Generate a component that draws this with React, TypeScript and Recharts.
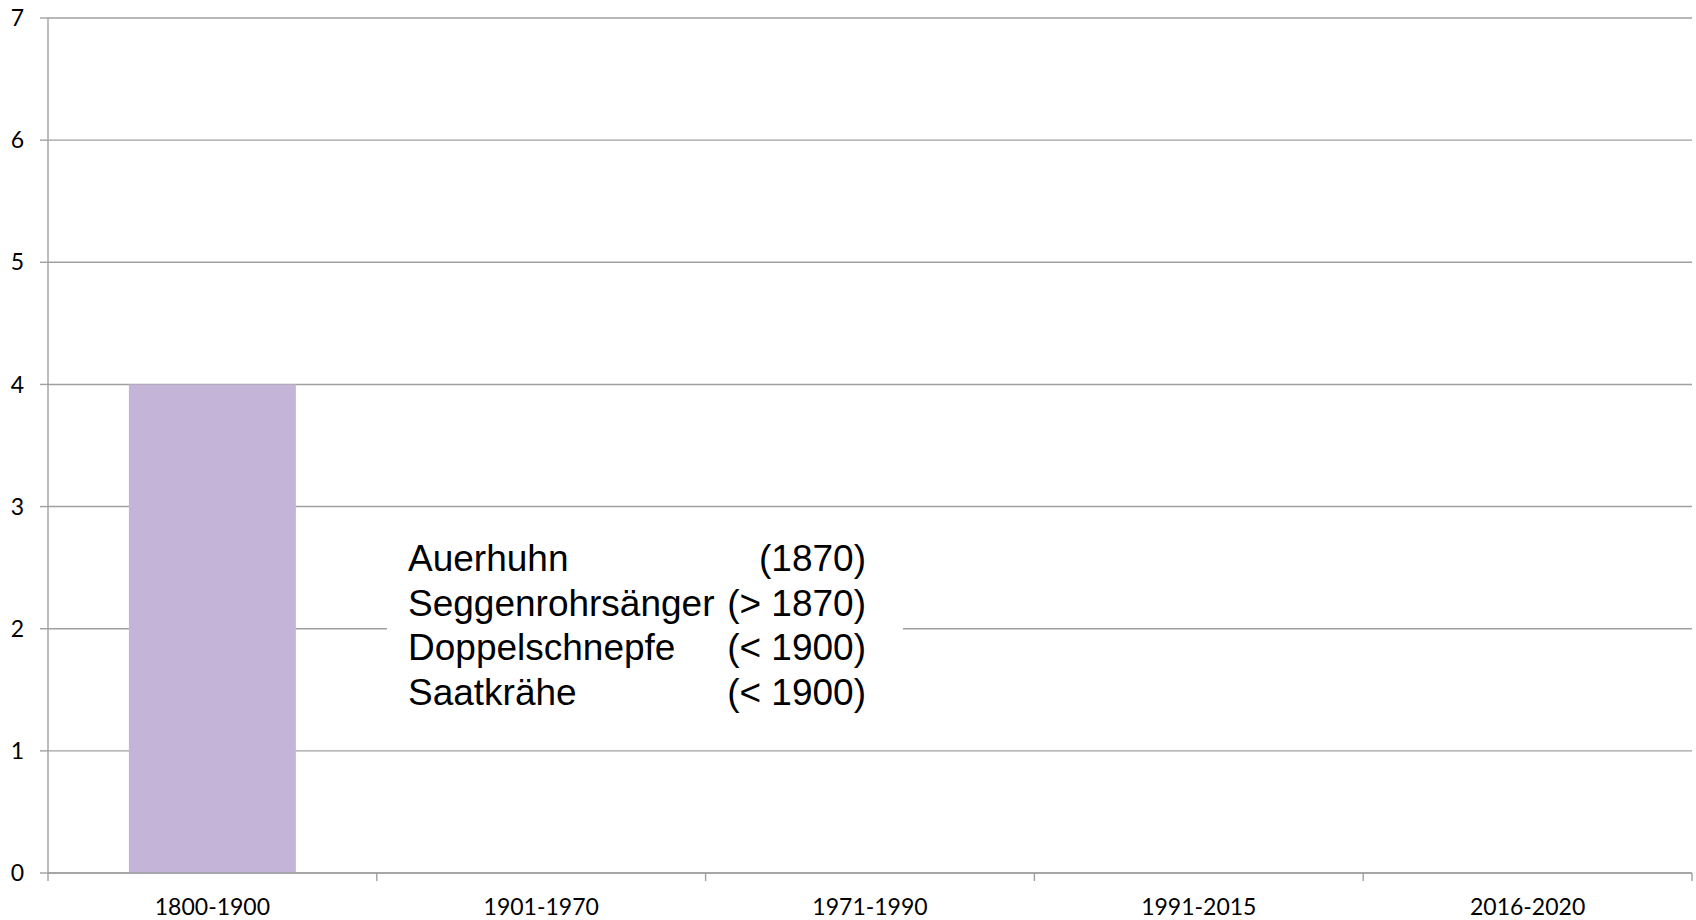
import React from "react";
import {
  BarChart,
  Bar,
  XAxis,
  YAxis,
  CartesianGrid,
} from "recharts";

const periods = ["1800-1900", "1901-1970", "1971-1990", "1991-2015", "2016-2020"];
const extinctCounts = [4, 0, 0, 0, 0];
const yTicks = [0, 1, 2, 3, 4, 5, 6, 7];

const species = ["Auerhuhn", "Seggenrohrsänger", "Doppelschnepfe", "Saatkrähe"];
const lastSeen = ["(1870)", "(> 1870)", "(< 1900)", "(< 1900)"];

const data = periods.map((p, i) => ({ period: p, count: extinctCounts[i] }));
// category boundaries, drawn on a hidden-label numeric axis
const boundaryTicks = periods.map((_, i) => i).concat(periods.length);

const axisFont = { fontFamily: "Lato, 'Open Sans', sans-serif", fontSize: 23, fill: "#000" };
const gray = "#a0a0a0";

const App: React.FC = () => {
  return (
    <div style={{ position: "absolute", left: 0, top: 0, width: 1696, height: 920, background: "#fff" }}>
      <BarChart
        width={1696}
        height={920}
        data={data}
        margin={{ top: 18, right: 4, bottom: 0, left: 0 }}
        barCategoryGap="24.6%"
      >
        <CartesianGrid xAxisId="z" vertical={false} stroke={gray} strokeWidth={1.4} />
        <XAxis
          xAxisId="z"
          dataKey="period"
          height={46}
          axisLine={false}
          tickLine={false}
          tick={axisFont}
          tickMargin={19}
          interval={0}
        />
        <XAxis
          xAxisId="a"
          dataKey="count"
          type="number"
          domain={[0, periods.length]}
          ticks={boundaryTicks}
          allowDataOverflow
          height={1}
          stroke={gray}
          strokeWidth={1.4}
          tickSize={8}
          tickFormatter={() => ""}
        />
        <YAxis
          width={48}
          domain={[0, 7]}
          ticks={yTicks}
          interval={0}
          stroke={gray}
          strokeWidth={1.4}
          tickSize={8}
          tickMargin={16}
          tick={axisFont}
        />
        <Bar xAxisId="z" dataKey="count" fill="#c4b5d8" isAnimationActive={false} />
      </BarChart>
      <div
        style={{
          position: "absolute",
          left: 387,
          top: 520,
          width: 516,
          height: 210,
          boxSizing: "border-box",
          padding: "17px 37px 0 21px",
          background: "#fff",
          fontFamily: "'Liberation Sans', Arial, sans-serif",
          fontSize: 37,
          lineHeight: "44.7px",
          color: "#000",
        }}
      >
        {species.map((s, i) => (
          <div key={s} style={{ display: "flex", justifyContent: "space-between", whiteSpace: "nowrap" }}>
            <span>{s}</span>
            <span>{lastSeen[i]}</span>
          </div>
        ))}
      </div>
    </div>
  );
};

export default App;
